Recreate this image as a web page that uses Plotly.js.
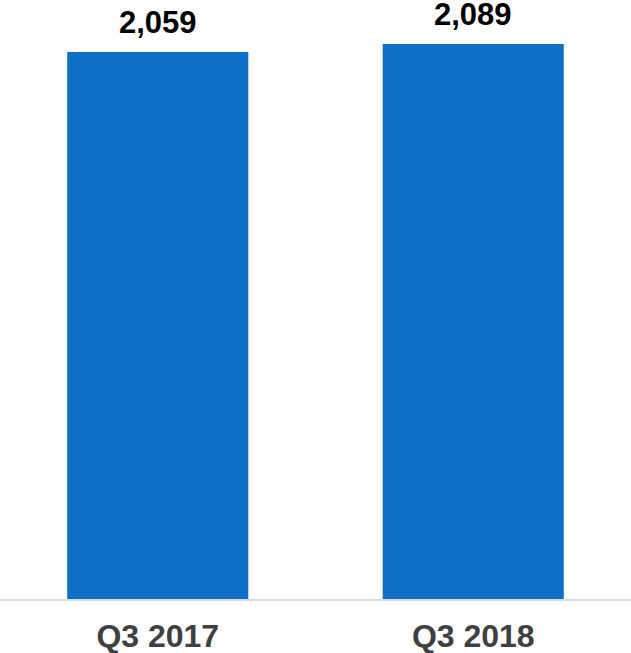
<!DOCTYPE html>
<html>
<head>
<meta charset="utf-8">
<script src="https://cdn.plot.ly/plotly-3.0.1.min.js"></script>
<style>html,body{margin:0;padding:0;background:#fff;}#chart{width:631px;height:653px;}</style>
</head>
<body>
<div id="chart"></div>
<script>
const categories = ["Q3 2017", "Q3 2018"];
const values = [2059, 2089];
const valueLabels = ["2,059", "2,089"];

const trace = {
  type: "bar",
  x: categories,
  y: values,
  marker: { color: "#0f6fc6" },
  hoverinfo: "skip"
};

const annotations = categories.map((c, i) => ({
  x: c, y: values[i], xref: "x", yref: "y",
  text: valueLabels[i], showarrow: false,
  yanchor: "bottom", yshift: 10,
  font: { family: "Liberation Sans, Arial, sans-serif", size: 31, color: "#000000", weight: "bold" }
}));

const layout = {
  width: 631, height: 653,
  margin: { l: 0, r: 0, t: 0, b: 54 },
  paper_bgcolor: "#ffffff", plot_bgcolor: "#ffffff",
  bargap: 0.426,
  showlegend: false,
  xaxis: {
    type: "category",
    showline: true, linecolor: "#d9d9d9", linewidth: 2,
    showgrid: false, zeroline: false, ticks: "",
    ticklabelstandoff: 8,
    tickfont: { family: "Liberation Sans, Arial, sans-serif", size: 32, color: "#404040", weight: "bold" }
  },
  yaxis: {
    range: [0, 2255], visible: false, showgrid: false, zeroline: false
  },
  annotations: annotations
};

Plotly.newPlot("chart", [trace], layout, { displayModeBar: false, staticPlot: true });
</script>
</body>
</html>
